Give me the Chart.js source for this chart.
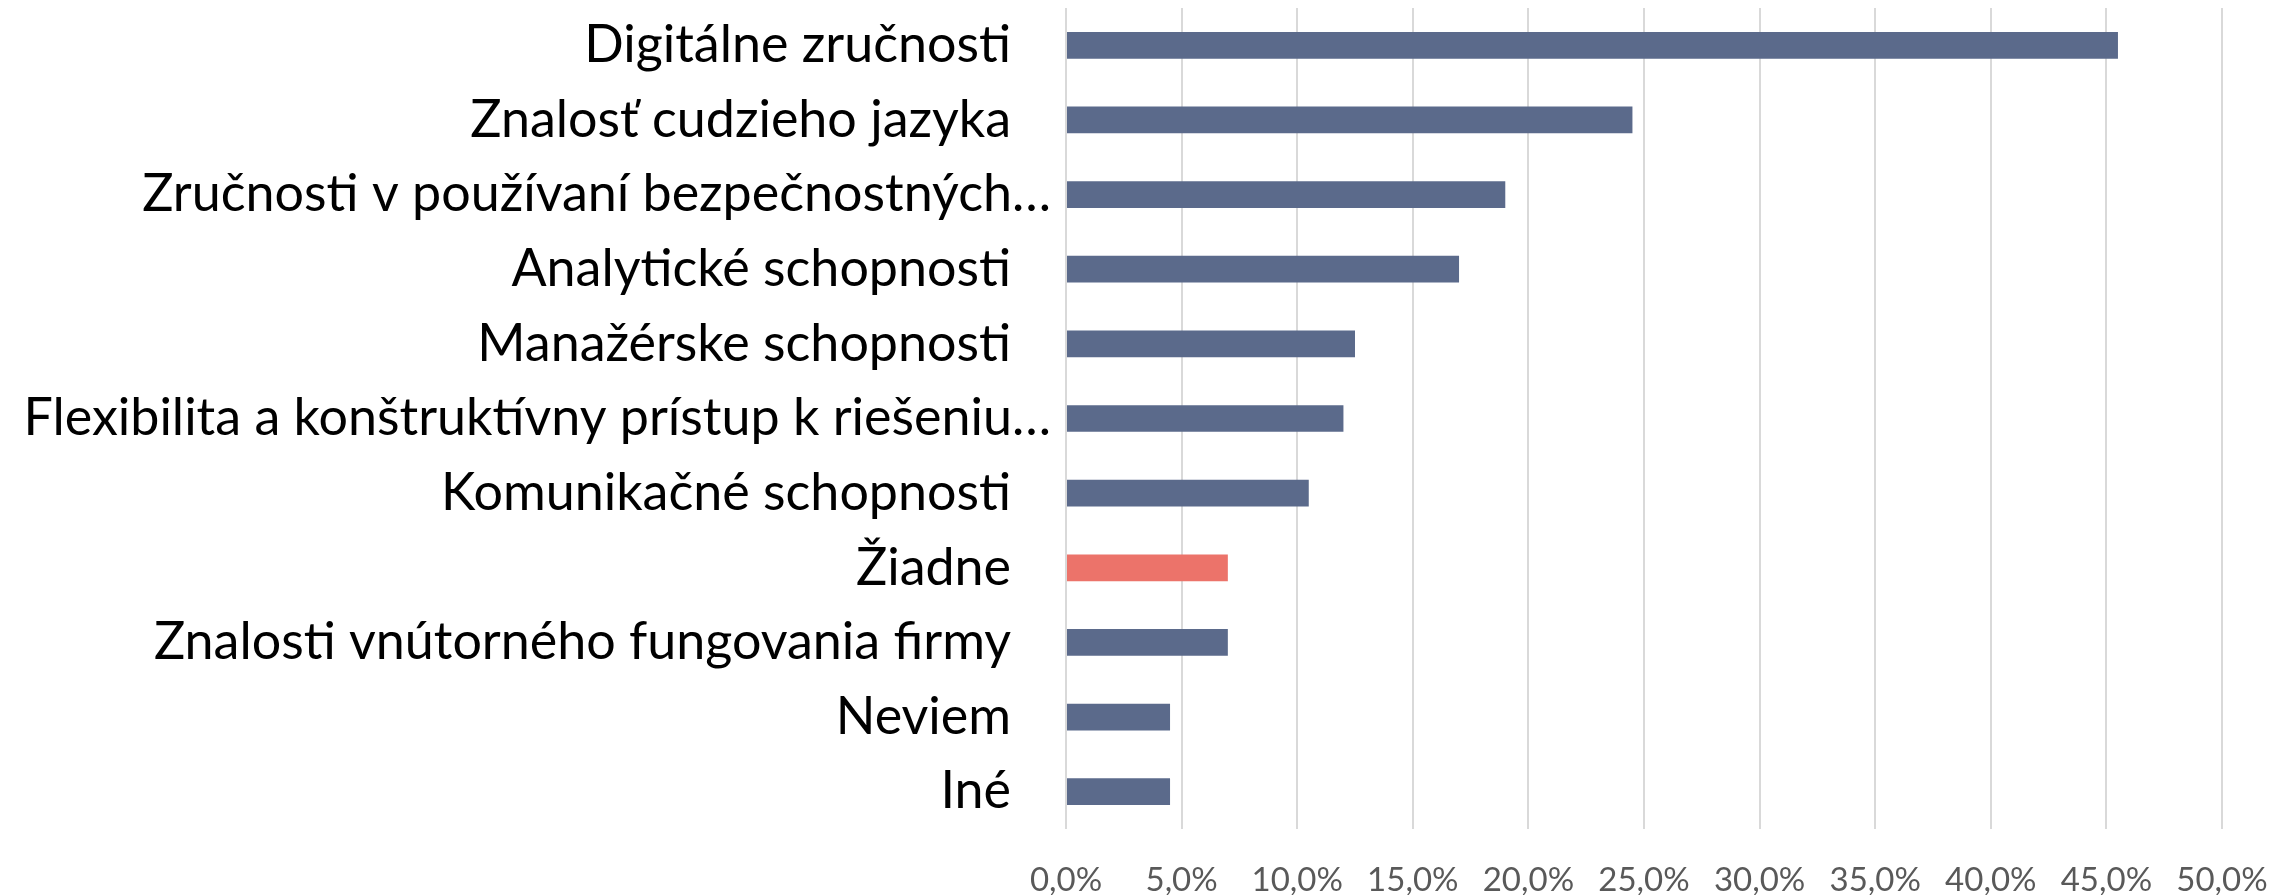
<!DOCTYPE html>
<html>
<head>
<meta charset="utf-8">
<script src="https://cdn.jsdelivr.net/npm/chart.js@4"></script>
<style>
html,body{margin:0;padding:0;background:#fff;}
</style>
</head>
<body>
<canvas id="c" width="2295" height="895"></canvas>
<script>
const categories = [
  "Digitálne zručnosti",
  "Znalosť cudzieho jazyka",
  "Zručnosti v používaní bezpečnostných…",
  "Analytické schopnosti",
  "Manažérske schopnosti",
  "Flexibilita a konštruktívny prístup k riešeniu…",
  "Komunikačné schopnosti",
  "Žiadne",
  "Znalosti vnútorného fungovania firmy",
  "Neviem",
  "Iné"
];
const values = [45.5, 24.5, 19.0, 17.0, 12.5, 12.0, 10.5, 7.0, 7.0, 4.5, 4.5];
const highlighted = ["Žiadne"];
const xTicks = [0, 5, 10, 15, 20, 25, 30, 35, 40, 45, 50];

const BLUE = "#5B6A8B", RED = "#EC736A";

new Chart(document.getElementById('c'), {
  type: 'bar',
  data: {
    labels: categories,
    datasets: [{
      data: values,
      backgroundColor: categories.map(c => highlighted.includes(c) ? RED : BLUE),
      categoryPercentage: 1,
      barPercentage: 0.358
    }]
  },
  options: {
    indexAxis: 'y',
    responsive: false,
    animation: false,
    layout: { padding: { top: 8, right: 73, left: 0, bottom: 0 } },
    plugins: { legend: { display: false }, tooltip: { enabled: false } },
    scales: {
      x: {
        min: 0, max: 50,
        afterBuildTicks: s => { s.ticks = xTicks.map(v => ({ value: v })); },
        afterFit: s => { s.height = 66; s.paddingLeft = 0; s.paddingRight = 0; },
        grid: { color: '#D9D9D9', lineWidth: 2, drawTicks: false },
        border: { display: false },
        ticks: {
          padding: 32,
          color: '#595959',
          font: { family: 'Lato', size: 33 },
          maxRotation: 0,
          callback: v => v.toFixed(1).replace('.', ',') + '%'
        }
      },
      y: {
        afterFit: s => { s.width = 1066; s.paddingTop = 0; s.paddingBottom = 0; },
        grid: { display: false, drawTicks: false },
        border: { display: false },
        ticks: {
          padding: 15,
          color: '#000000',
          font: { family: 'Lato', size: 52 },
          autoSkip: false,
          callback: function (v) {
            const l = this.getLabelForValue(v);
            return l.endsWith('…') ? l : l + '   ';
          }
        }
      }
    }
  }
});
</script>
</body>
</html>
